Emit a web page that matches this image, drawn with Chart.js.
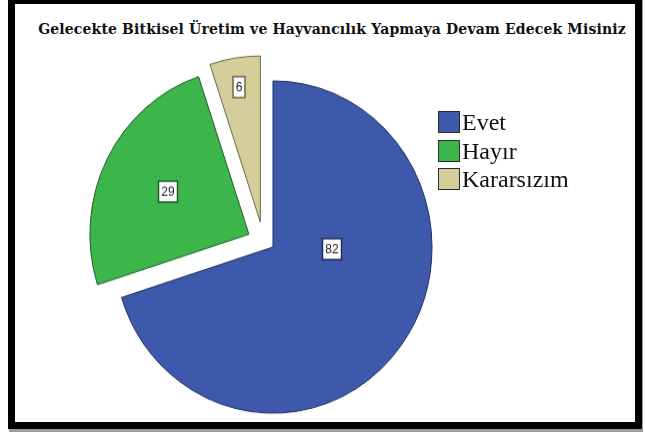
<!DOCTYPE html>
<html>
<head>
<meta charset="utf-8">
<script src="https://cdn.jsdelivr.net/npm/chart.js@4.4.1/dist/chart.umd.min.js"></script>
<style>
  html, body { margin: 0; padding: 0; background: #fff; }
  body { width: 645px; height: 432px; position: relative; overflow: hidden; }
  #frame {
    position: absolute; left: 8px; top: -3px;
    width: 620px; height: 418px;
    border: 7px solid #000;
    box-shadow: 1px 3px 0 #9b9b9b;
  }
  #title {
    position: absolute; left: 0; top: 21px; width: 664px;
    text-align: center;
    font: bold 14px "DejaVu Serif", serif;
    letter-spacing: 0.15px;
    color: #111;
  }
  /* the pie comes out a touch taller than wide */
  #myChart { position: absolute; left: 0; top: 0; transform: scaleY(1.045); transform-origin: 0 247px; }
  #legend {
    position: absolute; left: 438px; top: 111px;
    font: 24px "Liberation Serif", "Times New Roman", serif;
    color: #111;
  }
  #legend .row { display: flex; align-items: center; height: 22px; margin-bottom: 6.5px; }
  #legend .box { width: 20px; height: 20px; border: 1px solid #2b2b2b; margin-right: 2px; }
  #legend .txt { line-height: 22px; }
</style>
</head>
<body>
<div id="frame"></div>
<div id="title">Gelecekte Bitkisel Üretim ve Hayvancılık Yapmaya Devam Edecek Misiniz</div>
<canvas id="myChart" width="645" height="432"></canvas>
<div id="legend"></div>
<script>
// answers and counts
const labels = ['Evet', 'Hayır', 'Kararsızım'];
const counts = [82, 29, 6];

const fillColors = ['#3E58AC', '#3CB54B', '#D5CE9B'];
const edgeColors = ['#1F2C5E', '#1D5E27', '#6B6548'];

// pulled-out slices: distance in px, direction in degrees clockwise from 12 o'clock (null = bisector)
const pullDist = [0, 27, 27];
const pullDir = [null, null, 332];

const ctx = document.getElementById('myChart');

const explode = {
    id: 'explode',
    afterDatasetUpdate(chart, args) {
        const arcs = chart.getDatasetMeta(args.index).data;
        arcs.forEach((arc, i) => {
            const d = pullDist[i] || 0;
            if (!d) return;
            const a = pullDir[i] == null
                ? (arc.startAngle + arc.endAngle) / 2
                : (pullDir[i] - 90) * Math.PI / 180;
            arc.x += Math.cos(a) * d;
            arc.y += Math.sin(a) * d;
        });
    }
};

// little white boxes with the count inside each slice
const valueBoxes = {
    id: 'valueBoxes',
    afterDatasetsDraw(chart, args, opts) {
        const c = chart.ctx;
        const meta = chart.getDatasetMeta(0);
        const data = chart.data.datasets[0].data;
        c.save();
        c.font = '12px "Liberation Sans", Arial, sans-serif';
        c.textAlign = 'center';
        c.textBaseline = 'middle';
        meta.data.forEach((arc, i) => {
            const at = opts.at[i];
            const a = at.deg == null
                ? (arc.startAngle + arc.endAngle) / 2
                : (at.deg - 90) * Math.PI / 180;
            const r = arc.outerRadius * at.r;
            const x = Math.round(arc.x + Math.cos(a) * r);
            const y = Math.round(arc.y + Math.sin(a) * r);
            const txt = String(data[i]);
            const w = Math.ceil(c.measureText(txt).width) + 5;
            const h = 20;
            c.fillStyle = '#fff';
            c.fillRect(x - w / 2, y - h / 2, w, h);
            c.lineWidth = 1.5;
            c.strokeStyle = edgeColors[i];
            c.strokeRect(x - w / 2, y - h / 2, w, h);
            c.fillStyle = '#222';
            c.fillText(txt, x, y + 1);
        });
        c.restore();
    }
};

const chart = new Chart(ctx, {
    type: 'pie',
    plugins: [explode, valueBoxes],
    data: {
        labels: labels,
        datasets: [{
            data: counts,
            backgroundColor: fillColors,
            borderColor: edgeColors,
            borderWidth: 1,
        }]
    },
    options: {
        responsive: false,
        animation: false,
        radius: 159,
        layout: { padding: { left: 100, right: 199, top: 80, bottom: 18 } },
        plugins: {
            legend: { display: false },
            tooltip: { enabled: false },
            valueBoxes: {
                at: [{ deg: 92, r: 0.37 }, { r: 0.57 }, { r: 0.82 }]
            }
        }
    }
});

// legend on the right
const legendEl = document.getElementById('legend');
labels.forEach((name, i) => {
    const row = document.createElement('div');
    row.className = 'row';
    const box = document.createElement('div');
    box.className = 'box';
    box.style.background = fillColors[i];
    const txt = document.createElement('span');
    txt.className = 'txt';
    txt.textContent = name;
    row.appendChild(box);
    row.appendChild(txt);
    legendEl.appendChild(row);
});
</script>
</body>
</html>
